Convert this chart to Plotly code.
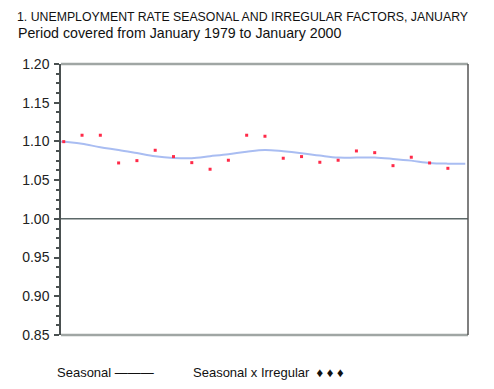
import plotly.graph_objects as go

years = list(range(1979, 2001))
seasonal = [1.0997, 1.0970, 1.0925, 1.0890, 1.0850, 1.0809, 1.0787, 1.0783, 1.0809, 1.0835,
            1.0868, 1.0890, 1.0873, 1.0848, 1.0817, 1.0791, 1.0791, 1.0791, 1.0774, 1.0752,
            1.0722, 1.0713]
seas_irr = [1.0997, 1.1080, 1.1080, 1.0722, 1.0752, 1.0886, 1.0804, 1.0726, 1.0641, 1.0757,
            1.1080, 1.1067, 1.0783, 1.0804, 1.0731, 1.0757, 1.0877, 1.0855, 1.0687, 1.0796,
            1.0722, 1.0653]
y_ticks = [0.85, 0.90, 0.95, 1.00, 1.05, 1.10, 1.15, 1.20]

line_x = [1978.85] + years + [2000.95]
line_y = [seasonal[0]] + seasonal + [seasonal[-1]]

fig = go.Figure()
fig.add_trace(go.Scatter(x=line_x, y=line_y, mode="lines", line=dict(color="#a9bdf2", width=2, shape="spline"),
                         hoverinfo="skip", showlegend=False))
fig.add_trace(go.Scatter(x=years, y=seas_irr, mode="markers",
                         marker=dict(symbol="square", size=3, color="#ff2a48", line=dict(width=0)),
                         showlegend=False))

fig.add_shape(type="line", xref="paper", yref="y", x0=0, x1=1, y0=1.0, y1=1.0,
              line=dict(color="#5c6868", width=1.5))
fig.add_shape(type="line", xref="paper", yref="paper", x0=0, x1=1, y0=1, y1=1,
              line=dict(color="#a0a6a4", width=2.5))
fig.add_shape(type="line", xref="paper", yref="paper", x0=0, x1=1, y0=0, y1=0,
              line=dict(color="#a0a6a4", width=2.5))
fig.add_shape(type="line", xref="paper", yref="paper", x0=1, x1=1, y0=0, y1=1,
              line=dict(color="#555555", width=1.5))

fig.update_layout(
    width=494, height=389,
    margin=dict(l=53, r=34, t=56, b=62),
    paper_bgcolor="white", plot_bgcolor="white",
    font=dict(family="Liberation Sans", color="#222222"),
    xaxis=dict(range=[1978.85, 2001.1], visible=False, showgrid=False, zeroline=False),
    yaxis=dict(range=[0.85, 1.20], tickvals=y_ticks, ticktext=[f"{v:.2f}" for v in y_ticks],
               showgrid=False, zeroline=False, showline=True, linecolor="#4a5050", linewidth=1.5,
               ticks="outside", ticklen=5, tickcolor="#4a5050", tickwidth=1.5, ticklabelstandoff=2,
               tickfont=dict(size=14, family="Liberation Sans", color="#222222"),
               minor=dict(dtick=0.0125, tick0=0.85, ticks="outside", ticklen=3, tickcolor="#4a5050", tickwidth=1.5)),
    annotations=[
        dict(text="1. UNEMPLOYMENT RATE SEASONAL AND IRREGULAR FACTORS, JANUARY", xref="paper", yref="paper",
             x=-45/407, y=1 + 55.5/271, xanchor="left", yanchor="top", showarrow=False, borderpad=0,
             font=dict(family="Liberation Sans", size=12.3, color="#111111")),
        dict(text="Period covered from January 1979 to January 2000", xref="paper", yref="paper",
             x=-45/407, y=1 + 21/271, xanchor="left", yanchor="bottom", showarrow=False,
             font=dict(family="Liberation Sans", size=14.2, color="#111111")),
        dict(text="Seasonal ———", xref="paper", yref="paper", x=-6/407, y=-38/271,
             xanchor="left", yanchor="middle", showarrow=False,
             font=dict(family="Liberation Sans", size=13, color="#111111")),
        dict(text="Seasonal x Irregular  ♦ ♦ ♦", xref="paper", yref="paper", x=130/407, y=-38/271,
             xanchor="left", yanchor="middle", showarrow=False,
             font=dict(family="Liberation Sans", size=13, color="#111111")),
    ],
)
fig.write_html("out.html")
